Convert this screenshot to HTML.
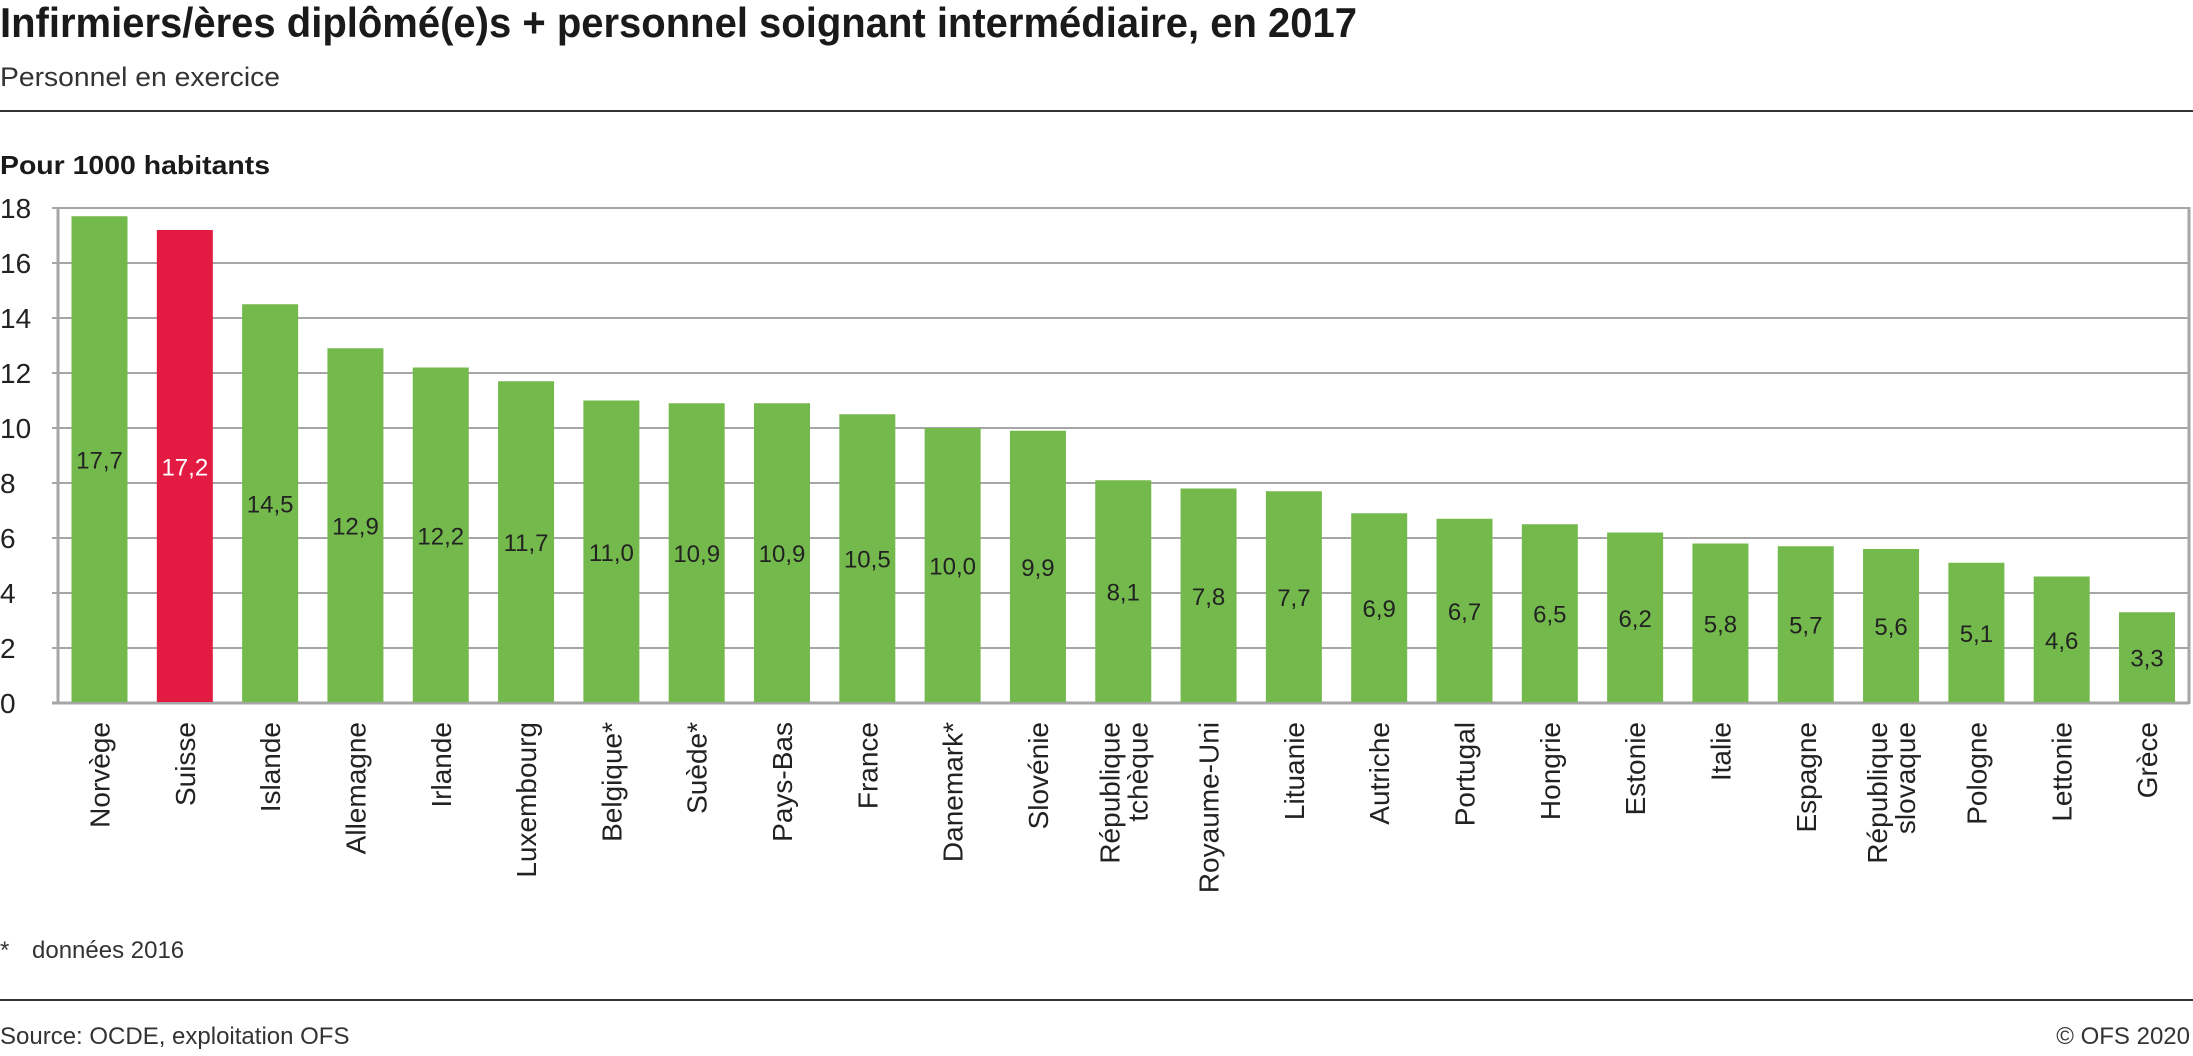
<!DOCTYPE html>
<html><head><meta charset="utf-8"><style>
html,body{margin:0;padding:0;background:#fff;}
body{width:2193px;height:1051px;overflow:hidden;font-family:"Liberation Sans",sans-serif;color:#222;}
</style></head><body>
<svg width="2193" height="1051" xmlns="http://www.w3.org/2000/svg" font-family="Liberation Sans, sans-serif" id="chart">
<text x="0" y="37" font-size="42" fill="#1a1a1a" textLength="1357" lengthAdjust="spacingAndGlyphs" style="font-weight:bold">Infirmiers/ères diplômé(e)s + personnel soignant intermédiaire, en 2017</text>
<text x="0" y="86" font-size="27" fill="#333" textLength="280" lengthAdjust="spacingAndGlyphs">Personnel en exercice</text>
<line x1="0" y1="111" x2="2193" y2="111" stroke="#333" stroke-width="2"/>
<text x="0" y="174" font-size="26" font-weight="bold" fill="#1a1a1a" textLength="270" lengthAdjust="spacingAndGlyphs">Pour 1000 habitants</text>
<g id="grid"></g>
<g id="bars"></g>
<g id="labels"></g>
<text x="0" y="958" font-size="24" fill="#333">*</text>
<text x="32" y="958" font-size="24" fill="#333">données 2016</text>
<line x1="0" y1="1000" x2="2193" y2="1000" stroke="#333" stroke-width="2"/>
<text x="0" y="1044" font-size="24" fill="#333">Source: OCDE, exploitation OFS</text>
<text x="2190" y="1044" font-size="24" fill="#333" text-anchor="end">© OFS 2020</text>
</svg>
<script>
const categories = ["Norvège","Suisse","Islande","Allemagne","Irlande","Luxembourg","Belgique*","Suède*","Pays-Bas","France","Danemark*","Slovénie","République|tchèque","Royaume-Uni","Lituanie","Autriche","Portugal","Hongrie","Estonie","Italie","Espagne","République|slovaque","Pologne","Lettonie","Grèce"];
const values = [17.7,17.2,14.5,12.9,12.2,11.7,11.0,10.9,10.9,10.5,10.0,9.9,8.1,7.8,7.7,6.9,6.7,6.5,6.2,5.8,5.7,5.6,5.1,4.6,3.3];
const highlight = ["Suisse"];
const yTicks = [0,2,4,6,8,10,12,14,16,18];

const NS="http://www.w3.org/2000/svg";
const L=58,R=2189,T=208,B=703,yMax=18;
const y=v=>B-(v/yMax)*(B-T);
const step=(2147-99.5)/24;
const xc=i=>99.5+i*step;
const bw=56;
function mk(tag,attrs,parent){const e=document.createElementNS(NS,tag);for(const k in attrs)e.setAttribute(k,attrs[k]);parent.appendChild(e);return e;}
const grid=document.getElementById('grid'),bars=document.getElementById('bars'),labels=document.getElementById('labels');
yTicks.forEach(t=>{
  const ln=mk('line',{x1:52,x2:R,y1:y(t),y2:y(t),stroke:'#a6a6a6','stroke-width':(t===0?3:2)},grid);
  
  
  const tx=mk('text',{x:0,y:y(t)+10,'font-size':28,fill:'#222'},grid);
  tx.textContent=t;
  
  
});
const ax=mk('line',{x1:L,x2:L,y1:T-1,y2:B+1,stroke:'#a6a6a6','stroke-width':3},grid);


const rb=mk('line',{x1:R,x2:R,y1:T-1,y2:B+1,stroke:'#a6a6a6','stroke-width':3},grid);


categories.forEach((c,i)=>{
  const v=values[i];const isH=highlight.includes(c);
  const r=mk('rect',{x:xc(i)-bw/2,y:y(v),width:bw,height:B-1-y(v),fill:isH?'#e31b43':'#74b94c'},bars);
  
  
  const vt=mk('text',{x:xc(i),y:(y(v)+B)/2+9,'font-size':24,'text-anchor':'middle',fill:isH?'#fff':'#222'},labels);
  vt.textContent=v.toFixed(1).replace('.',',');
  
  
  const parts=c.split('|');
  const g=mk('text',{transform:`translate(${xc(i)},722) rotate(-90)`,'font-size':28,'text-anchor':'end',fill:'#222'},labels);
  
  
  parts.forEach((p,k)=>{
    const off=(k-(parts.length-1)/2)*28+10;
    const s=mk('tspan',{x:0,y:off},g);s.textContent=p;
  });
});
</script>
</body></html>
